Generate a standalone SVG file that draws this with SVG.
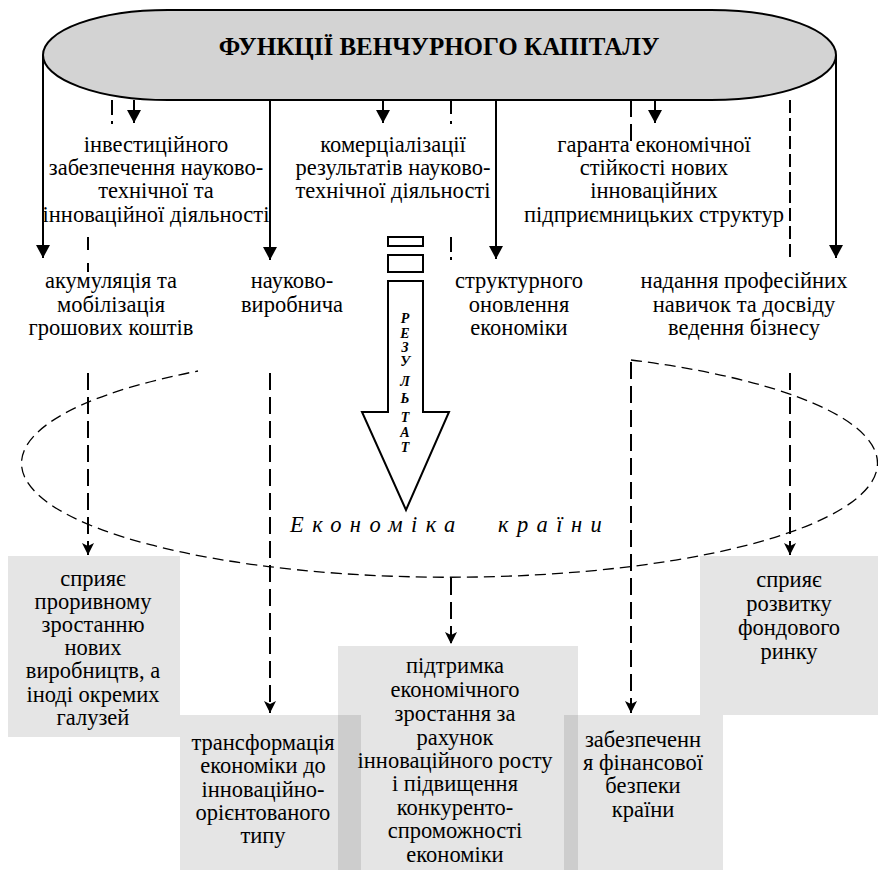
<svg xmlns="http://www.w3.org/2000/svg" width="878" height="870" viewBox="0 0 878 870" font-family="'Liberation Serif', 'DejaVu Serif', serif">
<defs>
<style>
text{font-family:"Liberation Serif","DejaVu Serif",serif;font-size:22.5px;fill:#000}
.c{text-anchor:middle}
.title{font-size:25px;font-weight:bold}
.res{font-size:14px;font-weight:bold;font-style:italic;text-anchor:middle}
.eco{font-style:italic;letter-spacing:8.4px}
.box{fill:#000;fill-opacity:0.1}
.sol{stroke:#000;stroke-width:2;fill:none}
.dsh{stroke:#000;stroke-width:2;fill:none;stroke-dasharray:17 7}
.ell{stroke:#000;stroke-width:1.3;fill:none;stroke-dasharray:11 6}
</style>
<marker id="ah" viewBox="0 0 13 14" refX="13" refY="7" markerWidth="13" markerHeight="14" markerUnits="userSpaceOnUse" orient="auto"><path d="M0,0 L13,7 L0,14 z" fill="#000"/></marker>
<marker id="dh" viewBox="0 0 12 12" refX="12" refY="6" markerWidth="12" markerHeight="12" markerUnits="userSpaceOnUse" orient="auto"><path d="M0,0 L12,6 L0,12 L3,6 z" fill="#000"/></marker>
</defs>
<rect width="878" height="870" fill="#fff"/>

<g id="economy">
<path class="ell" d="M631,360 A428,114 0 1,1 198,371"/>
<text class="eco" x="290" y="532">Економіка</text>
<text class="eco" x="498" y="532">країни</text>
</g>

<g id="result-arrow">
<rect x="388" y="237" width="35" height="9" fill="#fff" stroke="#000" stroke-width="2"/>
<rect x="388" y="255" width="35" height="17" fill="#fff" stroke="#000" stroke-width="2"/>
<path d="M388,281 L423,281 L423,412 L449,412 L406,510 L362,412 L388,412 Z" fill="#fff" stroke="#000" stroke-width="2"/>
<text class="res" x="405" y="323">Р</text>
<text class="res" x="405" y="338">Е</text>
<text class="res" x="405" y="352">З</text>
<text class="res" x="405" y="366">У</text>
<text class="res" x="405" y="386">Л</text>
<text class="res" x="405" y="403">Ь</text>
<text class="res" x="405" y="422">Т</text>
<text class="res" x="405" y="437">А</text>
<text class="res" x="405" y="452">Т</text>
</g>

<g id="connectors">
<path class="sol" d="M43,55 V258" marker-end="url(#ah)"/>
<path class="sol" d="M134,100 V123" marker-end="url(#ah)"/>
<path class="sol" d="M270,100 V260" marker-end="url(#ah)"/>
<path class="sol" d="M383,100 V123" marker-end="url(#ah)"/>
<path class="sol" d="M496,100 V259" marker-end="url(#ah)"/>
<path class="sol" d="M655,100 V123" marker-end="url(#ah)"/>
<path class="sol" d="M836,55 V258" marker-end="url(#ah)"/>

<path class="sol" d="M112,100 V115 M112,121 V124 M88,237 V250 M88,263 V272"/>
<path class="sol" d="M451,100 V114 M451,121 V124 M451,237 V252 M451,257 V260"/>
<path class="dsh" d="M631,100 V146"/>
<path class="dsh" style="stroke-dasharray:13 5" d="M790,100 V260"/>

<path class="dsh" d="M88,373 V555" marker-end="url(#dh)"/>
<path class="dsh" d="M270,373 V713" marker-end="url(#dh)"/>
<path class="dsh" d="M451,578 V644" marker-end="url(#dh)"/>
<path class="dsh" d="M631,362 V713" marker-end="url(#dh)"/>
<path class="dsh" d="M790,373 V555" marker-end="url(#dh)"/>
</g>

<g id="title">
<rect x="43" y="10" width="793" height="90" rx="125" ry="45" fill="#d3d3d3" stroke="#000" stroke-width="2"/>
<text class="c title" x="439" y="55">ФУНКЦІЇ ВЕНЧУРНОГО КАПІТАЛУ</text>
</g>

<g id="f-invest">
<text class="c" x="156" y="152">інвестиційного</text>
<text class="c" x="156" y="175">забезпечення науково-</text>
<text class="c" x="156" y="198">технічної та</text>
<text class="c" x="156" y="222">інноваційної діяльності</text>
</g>
<g id="f-commerc">
<text class="c" x="393" y="152">комерціалізації</text>
<text class="c" x="393" y="175">результатів науково-</text>
<text class="c" x="393" y="198">технічної діяльності</text>
</g>
<g id="f-guarant">
<text class="c" x="654" y="152">гаранта економічної</text>
<text class="c" x="654" y="175">стійкості нових</text>
<text class="c" x="654" y="198">інноваційних</text>
<text class="c" x="654" y="222">підприємницьких структур</text>
</g>
<g id="f-accum">
<text class="c" x="111" y="288">акумуляція та</text>
<text class="c" x="111" y="312">мобілізація</text>
<text class="c" x="111" y="335">грошових коштів</text>
</g>
<g id="f-science">
<text class="c" x="292" y="288">науково-</text>
<text class="c" x="292" y="312">виробнича</text>
</g>
<g id="f-struct">
<text class="c" x="519" y="288">структурного</text>
<text class="c" x="519" y="312">оновлення</text>
<text class="c" x="519" y="335">економіки</text>
</g>
<g id="f-skills">
<text class="c" x="744" y="288">надання професійних</text>
<text class="c" x="744" y="312">навичок та досвіду</text>
<text class="c" x="744" y="335">ведення бізнесу</text>
</g>

<g id="b1">
<rect class="box" x="8" y="556" width="172" height="181"/>
<text class="c" x="93" y="586">сприяє</text>
<text class="c" x="93" y="609">проривному</text>
<text class="c" x="93" y="632">зростанню</text>
<text class="c" x="93" y="655">нових</text>
<text class="c" x="93" y="678">виробництв, а</text>
<text class="c" x="93" y="702">іноді окремих</text>
<text class="c" x="93" y="725">галузей</text>
</g>
<g id="b2">
<rect class="box" x="180" y="715" width="181" height="155"/>
<text class="c" x="263" y="750">трансформація</text>
<text class="c" x="263" y="773">економіки до</text>
<text class="c" x="263" y="797">інноваційно-</text>
<text class="c" x="263" y="820">орієнтованого</text>
<text class="c" x="263" y="843">типу</text>
</g>
<g id="b3">
<rect class="box" x="338" y="646" width="240" height="224"/>
<text class="c" x="455" y="673">підтримка</text>
<text class="c" x="455" y="697">економічного</text>
<text class="c" x="455" y="721">зростання за</text>
<text class="c" x="455" y="745">рахунок</text>
<text class="c" x="455" y="768">інноваційного росту</text>
<text class="c" x="455" y="791">і підвищення</text>
<text class="c" x="455" y="815">конкуренто-</text>
<text class="c" x="455" y="838">спроможності</text>
<text class="c" x="455" y="862">економіки</text>
</g>
<g id="b4">
<rect class="box" x="564" y="715" width="159" height="155"/>
<text class="c" x="643" y="747">забезпеченн</text>
<text class="c" x="643" y="770">я фінансової</text>
<text class="c" x="643" y="793">безпеки</text>
<text class="c" x="643" y="817">країни</text>
</g>
<g id="b5">
<rect class="box" x="700" y="556" width="178" height="159"/>
<text class="c" x="789" y="587">сприяє</text>
<text class="c" x="789" y="611">розвитку</text>
<text class="c" x="789" y="635">фондового</text>
<text class="c" x="789" y="659">ринку</text>
</g>
</svg>
